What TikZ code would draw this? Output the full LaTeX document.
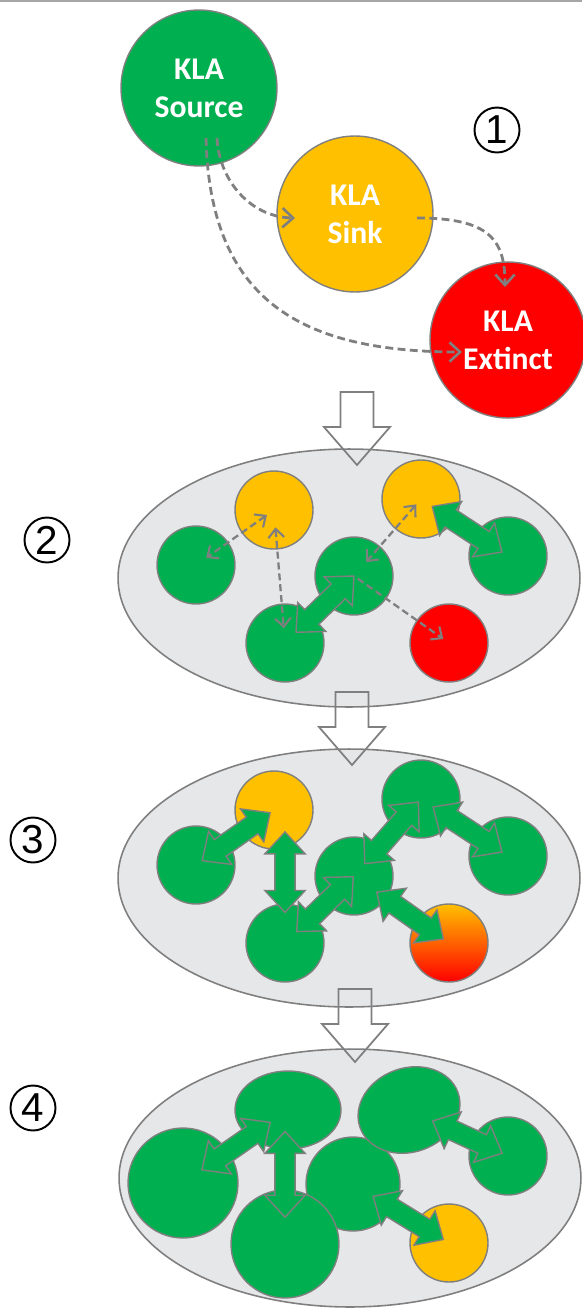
\documentclass[tikz,border=0pt]{standalone}
\usepackage{fontspec}
\newfontfamily\klafont{Carlito}
\newfontfamily\numfont{Liberation Sans}
\usetikzlibrary{calc,shapes.geometric,arrows.meta}

\definecolor{klagreen}{HTML}{00B050}
\definecolor{klayellow}{HTML}{FFC000}
\definecolor{klared}{HTML}{FF0000}
\definecolor{klaline}{HTML}{7F7F7F}
\definecolor{klarule}{HTML}{A6A6A6}
\definecolor{poolgray}{HTML}{E6E7E8}

\tikzset{
  ball/.style={circle, draw=klaline, line width=0.8pt, inner sep=0pt, minimum size=1.56cm, fill=klagreen},
  bigball/.style={ball, minimum size=3.12cm, text=white, align=center,
    font=\klafont\bfseries\fontsize{18}{21.5}\selectfont},
  pool/.style={ellipse, draw=klaline, fill=poolgray, line width=0.9pt, inner sep=0pt,
    minimum width=9.24cm, minimum height=5.16cm},
  stagenum/.style={circle, draw, line width=1.1pt, inner sep=0pt, minimum size=0.9cm,
    font=\numfont\fontsize{23}{23}\selectfont},
  flow/.style={draw=klaline, line width=1.6pt, dash pattern=on 4.5pt off 2.5pt,
    -{Straight Barb[length=6pt,width=11pt,line width=1.5pt]}},
  flowboth/.style={draw=klaline, line width=1.3pt, dash pattern=on 4pt off 2.2pt,
    {Straight Barb[length=5pt,width=9pt,line width=1.2pt]}-{Straight Barb[length=5pt,width=9pt,line width=1.2pt]}},
  flowone/.style={flowboth, -{Straight Barb[length=5pt,width=9pt,line width=1.2pt]}},
  fatline/.style={draw=klaline, fill=klagreen, line width=0.8pt, line join=miter},
  stepline/.style={draw=klaline, line width=1pt, line join=miter}
}

% fat double arrow between two nodes, ends at fractions #3 and #4
\def\fatarrow#1#2#3#4{%
  \coordinate (fa-a) at ($(#1)!#3!(#2)$);
  \coordinate (fa-b) at ($(#1)!#4!(#2)$);
  \coordinate (fa-p) at ($(fa-a)!12.5pt!(fa-b)$);
  \coordinate (fa-q) at ($(fa-b)!12.5pt!(fa-a)$);
  \draw[fatline] (fa-a) -- ($(fa-p)!11.5pt!90:(fa-b)$) -- ($(fa-p)!5.8pt!90:(fa-b)$)
    -- ($(fa-q)!5.8pt!-90:(fa-a)$) -- ($(fa-q)!11.5pt!-90:(fa-a)$) -- (fa-b)
    -- ($(fa-q)!11.5pt!90:(fa-a)$) -- ($(fa-q)!5.8pt!90:(fa-a)$)
    -- ($(fa-p)!5.8pt!-90:(fa-b)$) -- ($(fa-p)!11.5pt!-90:(fa-b)$) -- cycle;}
% white arrow pointing down, from top left corner of its shaft
\def\stepdown(#1){\draw[stepline] (#1) -- ++(33,0) -- ++(0,35) -- ++(16.5,0) -- ++(-33,38) -- ++(-33,-38) -- ++(16.5,0) -- cycle;}

\begin{document}
\begin{tikzpicture}[x=0.02cm, y=-0.02cm]
	\useasboundingbox (0,0) rectangle (582,1309);
	\draw[klarule, line width=1.2pt] (0,1) -- (582,1);
	
	%%%%% stage 1 %%%%%
	\node[bigball] (src) at (199,88) {KLA\\Source};
	\node[bigball, fill=klayellow] (sink) at (355,214) {KLA\\Sink};
	\node[bigball, fill=klared] (ext) at (508,340) {KLA\\Extinct};
	\node[stagenum] (n1) at (497,130) {1};
	
	\coordinate (src-a) at ($(src)+(18,50)$);
	\coordinate (src-b) at ($(src)+(7,50)$);
	\coordinate (sink-in) at ($(sink)+(-60,4)$);
	\coordinate (sink-out) at ($(sink)+(62,4)$);
	\coordinate (ext-in) at ($(ext)+(-46,12)$);
	\coordinate (ext-top) at ($(ext)+(-3,-53)$);
	\draw[flow] (src-a) .. controls (219,180) and (250,217) .. (sink-in);
	\draw[flow] (src-b) .. controls (210,300) and (300,352) .. (ext-in);
	\draw[flow] (sink-out) .. controls (490,218) and (505,240) .. (ext-top);
	
	%%%%% stage 2 %%%%%
	\node[pool] (pool2) at (349,578) {};
	\node[stagenum] (n2) at (47,540) {2};
	\node[ball] (p2g1) at (196,565) {};
	\node[ball, fill=klayellow] (p2y1) at (274,510) {};
	\node[ball] (p2g2) at (354,576) {};
	\node[ball, fill=klayellow] (p2y2) at (421,499) {};
	\node[ball] (p2g3) at (508,556) {};
	\node[ball] (p2g4) at (285,643) {};
	\node[ball, fill=klared] (p2r1) at (449,643) {};
	
	\draw[flowboth] ($(p2y1)!.09!(p2g1)$) -- ($(p2y1)!.87!(p2g1)$);
	\draw[flowboth] ($(p2y1)!.13!(p2g4)$) -- ($(p2y1)!.89!(p2g4)$);
	\draw[flowboth] ($(p2y2)!.07!(p2g2)$) -- ($(p2y2)!.82!(p2g2)$);
	\draw[flowone] ($(p2g2)!.04!(p2r1)$) -- ($(p2g2)!.94!(p2r1)$);
	\fatarrow{p2g2}{p2g4}{0}{.84}
	\fatarrow{p2y2}{p2g3}{.13}{.93}
	
	%%%%% stage 3 %%%%%
	\node[pool] (pool3) at (349,878) {};
	\node[stagenum] (n3) at (33,840) {3};
	\node[ball] (p3g1) at (196,865) {};
	\node[ball, fill=klayellow] (p3y1) at (274,810) {};
	\node[ball] (p3g2) at (354,876) {};
	\node[ball] (p3t) at (421,799) {};
	\node[ball] (p3g3) at (508,856) {};
	\node[ball] (p3g4) at (285,943) {};
	\node[ball, top color=klayellow, bottom color=klared] (p3o) at (449,943) {};
	
	\fatarrow{p3g1}{p3y1}{.08}{.95}
	\fatarrow{p3g4|-p3y1}{p3g4}{.165}{.77}
	\fatarrow{p3g4}{p3g2}{.17}{.99}
	\fatarrow{p3g2}{p3t}{.16}{.96}
	\fatarrow{p3t}{p3g3}{.14}{.93}
	\fatarrow{p3g2}{p3o}{.24}{.94}
	
	%%%%% stage 4 %%%%%
	\node[pool] (pool4) at (350,1178) {};
	\node[stagenum] (n4) at (33,1108) {4};
	\node[ball, minimum size=2.2cm] (p4g1) at (183,1183) {};
	\node[ball, ellipse, minimum width=2.12cm, minimum height=1.56cm] (p4e1) at (288,1110) {};
	\node[ball, minimum size=1.88cm] (p4g2) at (353,1184) {};
	\node[ball, minimum size=2.16cm] (p4g4) at (285,1244) {};
	\node[ball, ellipse, minimum width=2.08cm, minimum height=1.68cm, rotate=20] (p4e2) at (409,1110) {};
	\node[ball] (p4g3) at (508,1156) {};
	\node[ball, fill=klayellow] (p4y) at (449,1243) {};
	
	\fatarrow{p4g1}{p4e1}{.18}{.83}
	\fatarrow{p4g4|-p4e1}{p4g4}{.16}{.8}
	\fatarrow{p4e2}{p4g3}{.24}{.94}
	\fatarrow{p4g2}{p4y}{.21}{.94}
	
	%%%%% steps %%%%%
	\stepdown(340.5,392)
	\stepdown(335.5,692)
	\stepdown(338.5,989)
\end{tikzpicture}
\end{document}
